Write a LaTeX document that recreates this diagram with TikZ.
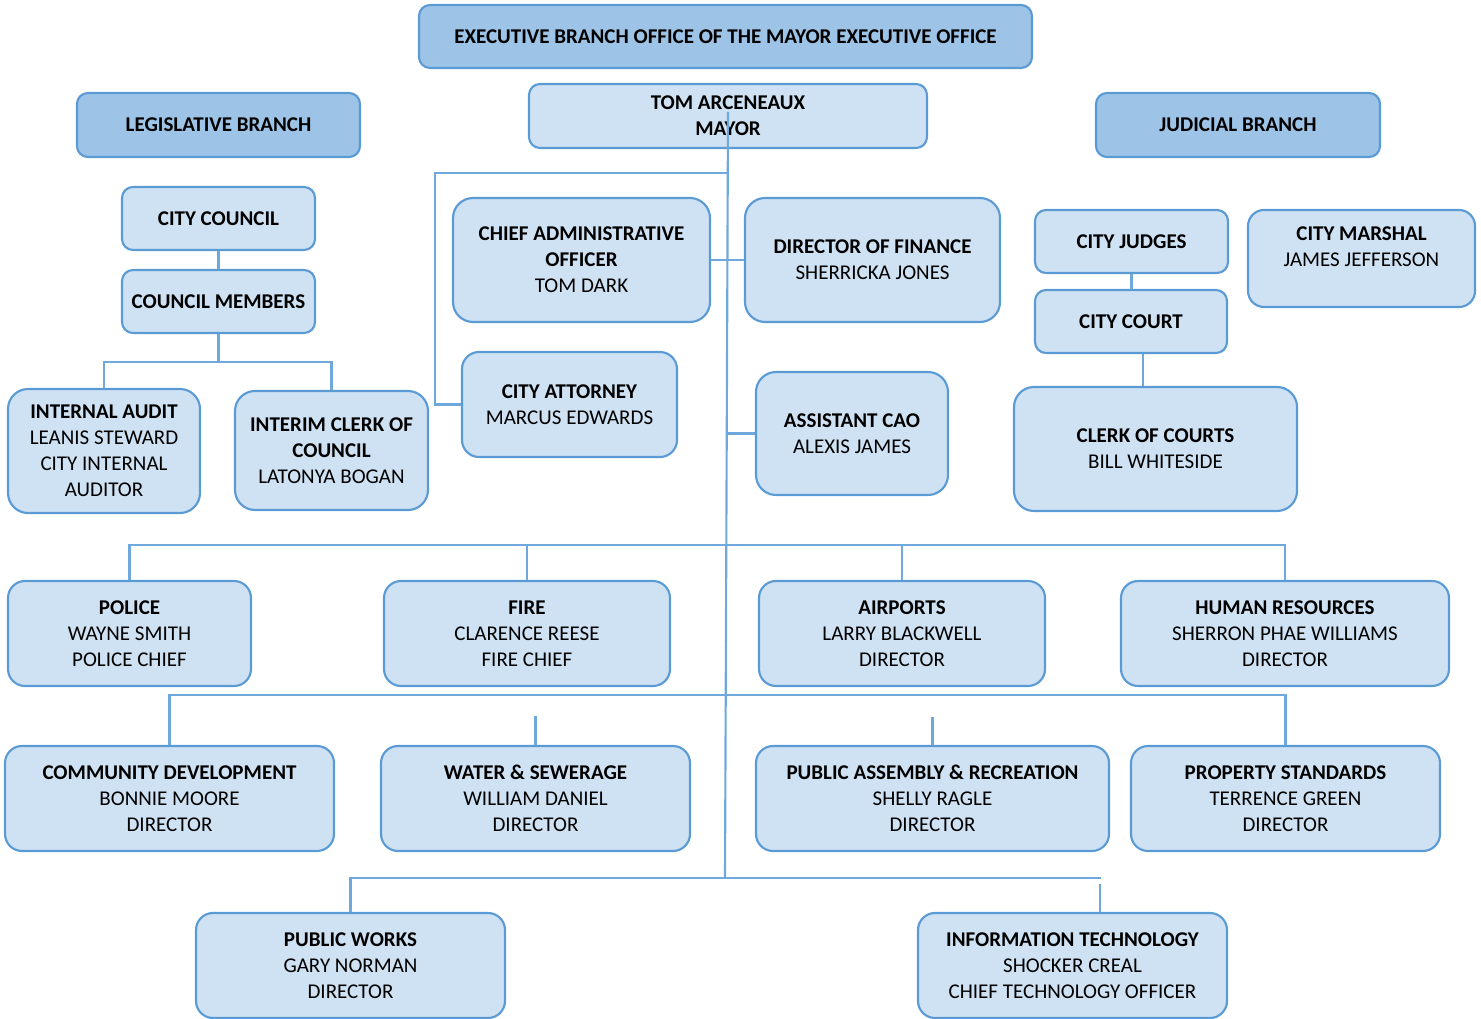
\documentclass[tikz,border=0pt]{standalone}
\usepackage{fontspec}
\setmainfont{Carlito}
\usetikzlibrary{calc}
\definecolor{darkfill}{HTML}{9DC3E6}
\definecolor{lightfill}{HTML}{CFE2F3}
\definecolor{edge}{HTML}{5B9BD5}
\definecolor{wire}{HTML}{6FA8DC}
\begin{document}
\begin{tikzpicture}[x=0.75pt,y=-0.75pt,
  box/.style 2 args={draw=edge, line width=1.6pt, fill=lightfill, inner sep=0pt,
    align=center, minimum width=#1*0.75pt, minimum height=#2*0.75pt,
    font=\fontsize{15.75pt}{19.5pt}\selectfont},
  dark/.style={fill=darkfill},
  rc/.style={rounded corners=#1*0.75pt},
  link/.style={draw=wire, line width=1.6pt}]
\useasboundingbox (0,0) rectangle (1481,1019);

% top level
\node[box={613}{63}, dark, rc=11] (exec) at (725.5,36.5) {\textbf{EXECUTIVE BRANCH OFFICE OF THE MAYOR EXECUTIVE OFFICE}};
\node[box={398}{64}, rc=11] (mayor) at (728,116) {\textbf{TOM ARCENEAUX}\\\textbf{MAYOR}};
\node[box={283}{64}, dark, rc=11] (leg) at (218.5,125) {\textbf{LEGISLATIVE BRANCH}};
\node[box={284}{64}, dark, rc=11] (jud) at (1238,125) {\textbf{JUDICIAL BRANCH}};

% legislative
\node[box={193}{63}, rc=11] (cc) at (218.5,218.5) {\textbf{CITY COUNCIL}};
\node[box={193}{63}, rc=11] (cm) at (218.5,301.5) {\textbf{COUNCIL MEMBERS}};
\node[box={192}{124}, rc=20] (ia) at (104,451) {\textbf{INTERNAL AUDIT}\\LEANIS STEWARD\\CITY INTERNAL\\AUDITOR};
\node[box={193}{119}, rc=20] (ic) at (331.5,450.5) {\textbf{INTERIM CLERK OF}\\\textbf{COUNCIL}\\LATONYA BOGAN};

% executive
\node[box={257}{124}, rc=20] (cao) at (581.5,260) {\textbf{CHIEF ADMINISTRATIVE}\\\textbf{OFFICER}\\TOM DARK};
\node[box={255}{124}, rc=20] (fin) at (872.5,260) {\textbf{DIRECTOR OF FINANCE}\\SHERRICKA JONES};
\node[box={215}{105}, rc=17] (att) at (569.5,404.5) {\textbf{CITY ATTORNEY}\\MARCUS EDWARDS};
\node[box={192}{123}, rc=20] (acao) at (852,433.5) {\textbf{ASSISTANT CAO}\\ALEXIS JAMES};

% judicial
\node[box={193}{63}, rc=11] (judges) at (1131.5,241.5) {\textbf{CITY JUDGES}};
\node[box={192}{63}, rc=11] (court) at (1131,321.5) {\textbf{CITY COURT}};
\node[box={227}{97}, rc=16] (marshal) at (1361.5,258.5) {\textbf{CITY MARSHAL}\\JAMES JEFFERSON\\[-7.5pt]\strut};
\node[box={283}{124}, rc=20] (clerk) at (1155.5,449) {\textbf{CLERK OF COURTS}\\BILL WHITESIDE};

% departments row 1
\node[box={243}{105}, rc=17] (police) at (129.5,633.5) {\textbf{POLICE}\\WAYNE SMITH\\POLICE CHIEF};
\node[box={286}{105}, rc=17] (fire) at (527,633.5) {\textbf{FIRE}\\CLARENCE REESE\\FIRE CHIEF};
\node[box={286}{105}, rc=17] (air) at (902,633.5) {\textbf{AIRPORTS}\\LARRY BLACKWELL\\DIRECTOR};
\node[box={328}{105}, rc=17] (hr) at (1285,633.5) {\textbf{HUMAN RESOURCES}\\SHERRON PHAE WILLIAMS\\DIRECTOR};

% row 2
\node[box={329}{105}, rc=17] (cd) at (169.5,798.5) {\textbf{COMMUNITY DEVELOPMENT}\\BONNIE MOORE\\DIRECTOR};
\node[box={309}{105}, rc=17] (water) at (535.5,798.5) {\textbf{WATER \& SEWERAGE}\\WILLIAM DANIEL\\DIRECTOR};
\node[box={353}{105}, rc=17] (pa) at (932.5,798.5) {\textbf{PUBLIC ASSEMBLY \& RECREATION}\\SHELLY RAGLE\\DIRECTOR};
\node[box={309}{105}, rc=17] (ps) at (1285.5,798.5) {\textbf{PROPERTY STANDARDS}\\TERRENCE GREEN\\DIRECTOR};

% row 3
\node[box={309}{105}, rc=17] (pw) at (350.5,965.5) {\textbf{PUBLIC WORKS}\\GARY NORMAN\\DIRECTOR};
\node[box={309}{105}, rc=17] (it) at (1072.5,965.5) {\textbf{INFORMATION TECHNOLOGY}\\SHOCKER CREAL\\CHIEF TECHNOLOGY OFFICER};

% connectors
\coordinate (spineTop) at (728,112);
\coordinate (spineBot) at (725,878);
\draw[link] (spineTop) -- (spineBot);

\coordinate (attCorner) at (435,173);
\draw[link] (att.west) -| (attCorner) -- (attCorner -| mayor.center);
\draw[link] (cao.east) -- (fin.west);
\draw[link] (acao.west) -- ++(-29,0);

\coordinate (bus1) at (0,545);
\draw[link] (police.north) -- (police.north |- bus1) -- (hr.north |- bus1) -- (hr.north);
\draw[link] (fire.north) -- (fire.north |- bus1);
\draw[link] (air.north) -- (air.north |- bus1);

\coordinate (bus2) at (0,695);
\draw[link] (cd.north) -- (cd.north |- bus2) -- (ps.north |- bus2) -- (ps.north);
\draw[link] (water.north) -- ++(0,-29);
\draw[link] (pa.north) -- ++(0,-28);

\coordinate (bus3) at (1101,878);
\draw[link] (pw.north) -- (pw.north |- bus3) -- (bus3);
\coordinate (itstub) at (1100,884);
\draw[link] (itstub) -- (itstub |- it.north);

\draw[link] (cc.south) -- (cm.north);
\coordinate (bus4) at (0,362);
\draw[link] (cm.south) -- (cm.south |- bus4);
\draw[link] (ia.north) -- (ia.north |- bus4) -- (ic.north |- bus4) -- (ic.north);

\draw[link] (judges.south) -- (judges.south |- court.north);
\coordinate (jm) at (1143,0);
\draw[link] (jm |- court.south) -- (jm |- clerk.north);
\end{tikzpicture}
\end{document}
